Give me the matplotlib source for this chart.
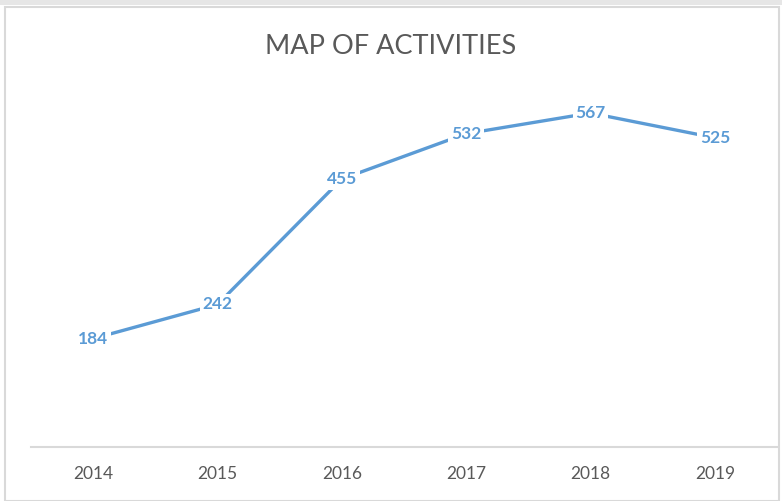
import matplotlib
matplotlib.use("Agg")
import matplotlib.pyplot as plt
from matplotlib.patches import Rectangle

years = ["2014", "2015", "2016", "2017", "2018", "2019"]
values = [184, 242, 455, 532, 567, 525]
title = "MAP OF ACTIVITIES"

W, H = 782, 501
fig = plt.figure(figsize=(W / 100, H / 100), dpi=100)
fig.patch.set_facecolor("white")

# chart border
fig.add_artist(Rectangle((5 / W, 0), (774) / W, (H - 7) / H, transform=fig.transFigure,
                         fill=False, edgecolor="#D9D9D9", linewidth=1.5))
fig.add_artist(Rectangle((0, (H - 5) / H), 1, 5 / H, transform=fig.transFigure,
                         facecolor="#E6E6E6", edgecolor="none"))

left, right = 31 / W, 777 / W
bottom = 1 - 447 / H
top = 1 - 93.6 / H
ax = fig.add_axes([left, bottom, right - left, top - bottom])
x = list(range(len(years)))
ax.plot(x, values, color="#5B9BD5", linewidth=2.4, solid_capstyle="round", zorder=2)
ax.set_xlim(-0.5, len(years) - 0.5)
ax.set_ylim(0, 600)

for xi, v in zip(x, values):
    ax.text(xi, v, str(v), ha="center", va="center", fontsize=12.5, fontweight="bold",
            color="#5B9BD5", family="Lato", zorder=3,
            bbox=dict(boxstyle="square,pad=0.15", facecolor="white", edgecolor="none"))

for s in ["top", "right", "left"]:
    ax.spines[s].set_visible(False)
ax.spines["bottom"].set_color("#D9D9D9")
ax.spines["bottom"].set_linewidth(1.5)
ax.set_yticks([])
ax.set_xticks(x)
ax.set_xticklabels(years, fontsize=12.5, color="#595959", family="Lato")
ax.tick_params(axis="x", length=0, pad=14)
ax.set_facecolor("none")

fig.text(0.5, 1 - 46 / H, title, ha="center", va="center", fontsize=19.5,
         color="#595959", family="Lato", fontweight="normal")

fig.savefig("out.png", dpi=100)
